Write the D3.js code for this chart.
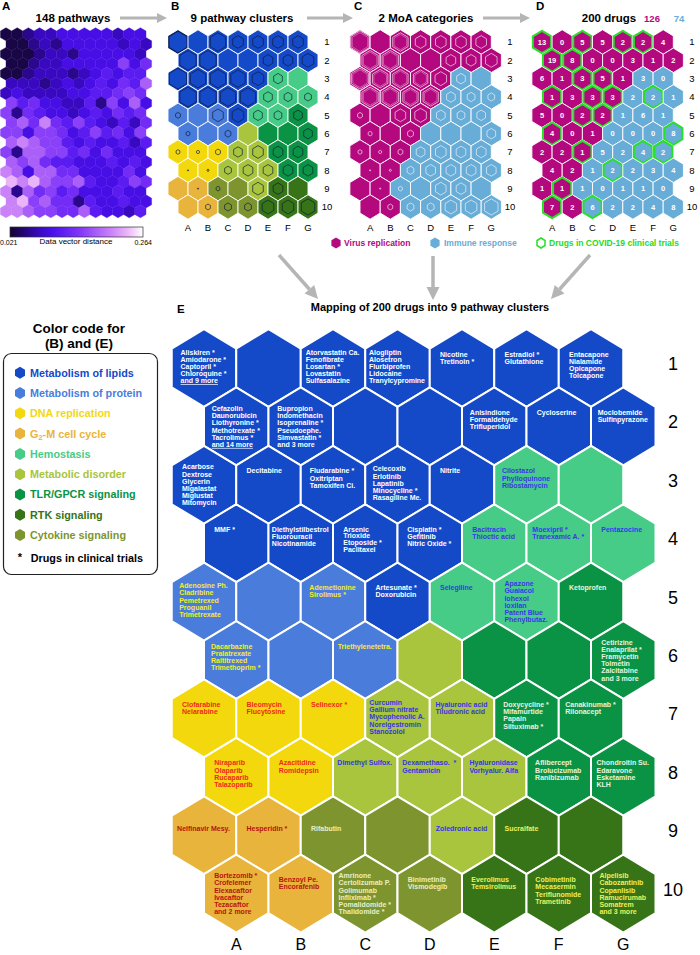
<!DOCTYPE html>
<html><head><meta charset="utf-8">
<script src="https://cdn.jsdelivr.net/npm/d3@7"></script>
<style>
body{margin:0;background:#fff}
svg{display:block;font-family:"Liberation Sans",Arial,Helvetica,sans-serif}
</style>
</head><body>
<svg id="chart" width="700" height="955"></svg>
<script>
// ---------------- DATA ----------------
const colLabels = ["A","B","C","D","E","F","G"];
const rowLabels = [1,2,3,4,5,6,7,8,9,10];

const clusterNames = ["Metabolism of lipids","Metabolism of protein","DNA replication","G2-M cell cycle","Hemostasis","Metabolic disorder","TLR/GPCR signaling","RTK signaling","Cytokine signaling"];
const clusterColors = ["#1449c8","#4a7cdc","#f3d80d","#e9b43b","#47cc88","#a9c43d","#0b9345","#367417","#7e952f"];
const clusterTextColors = ["#ffffff","#f4ec2a","#ee2a1c","#b5140c","#3838ea","#3636e4","#e6f4df","#ebf25c","#e8eec4"];

// cluster index per cell, rows 1..10, columns A..G
const clusterMap = [
  [0,0,0,0,0,0,0],
  [0,0,0,0,0,0,0],
  [0,0,0,0,0,4,4],
  [0,0,0,0,4,4,4],
  [1,1,1,0,4,4,6],
  [1,1,1,5,6,6,6],
  [2,2,2,5,5,6,6],
  [2,2,5,5,5,6,6],
  [3,3,8,8,5,7,7],
  [3,3,8,8,7,7,7]
];
// MoA category: 0 = virus replication, 1 = immune response
const moaNames = ["Virus replication","Immune response"];
const moaColors = ["#b4087e","#68acd8"];
const moaMap = [
  [0,0,0,0,0,0,0],
  [0,0,0,0,0,0,0],
  [0,0,0,0,0,1,1],
  [0,0,0,0,1,1,1],
  [0,0,0,0,1,1,1],
  [0,0,0,1,1,1,1],
  [0,0,0,1,1,1,1],
  [0,0,1,1,1,1,1],
  [0,0,1,1,1,1,1],
  [0,0,1,1,1,1,1]
];
const moaTotals = [126, 74];
const drugCounts = [
  [13,0,5,5,2,2,4],
  [19,8,0,0,3,1,2],
  [6,1,3,5,1,3,0],
  [1,3,3,3,2,2,1],
  [5,0,2,2,1,6,1],
  [4,0,1,0,0,0,8],
  [2,2,1,5,2,4,2],
  [4,2,1,2,2,3,4],
  [1,1,1,0,1,1,0],
  [7,2,6,2,2,4,8]
];
const trialFlags = [
  [1,0,1,0,1,1,0],
  [1,1,0,0,0,0,0],
  [0,0,1,1,0,0,0],
  [1,0,1,1,0,1,0],
  [0,0,1,1,0,0,0],
  [1,0,0,0,0,0,1],
  [0,0,1,0,0,1,1],
  [0,0,0,1,0,0,0],
  [0,1,0,0,0,0,0],
  [1,0,1,0,0,0,0]
];
// relative size of inner hexagon markers in panels B and C
const markerSize = [
  [0.95,0,0.8,0.55,0.55,0.55,0.55],
  [0.85,0.85,0,0,0.5,0.5,0.6],
  [0.9,0.8,0.8,0.75,0.6,0.45,0],
  [0.85,0.85,0.8,0.8,0.45,0.4,0.35],
  [0.25,0,0.55,0.6,0.45,0.4,0.45],
  [0.2,0,0.3,0,0,0,0.45],
  [0.2,0.15,0.25,0.45,0.55,0.5,0.5],
  [0.06,0.1,0.35,0.5,0.5,0.5,0.5],
  [0,0.06,0.2,0,0.55,0.5,0],
  [0,0.25,0.35,0.35,0.6,0.6,0.7]
];
const drugs = [
  [["Aliskiren *","Amiodarone *","Captopril *","Chloroquine *","and 9 more"],[],["Atorvastatin Ca.","Fenofibrate","Losartan *","Lovastatin","Sulfasalazine"],["Alogliptin","Alosetron","Flurbiprofen","Lidocaine","Tranylcypromine"],["Nicotine","Tretinoin *"],["Estradiol *","Glutathione"],["Entacapone","Nialamide","Opicapone","Tolcapone"]],
  [["Cefazolin","Daunorubicin","Liothyronine *","Methotrexate *","Tacrolimus *","and 14 more"],["Bupropion","Indomethacin","Isoprenaline *","Pseudoephe.","Simvastatin *","and 3 more"],[],[],["Anisindione","Formaldehyde","Trifluperidol"],["Cycloserine"],["Moclobemide","Sulfinpyrazone"]],
  [["Acarbose","Dextrose","Glycerin","Migalastat","Miglustat","Mitomycin"],["Decitabine"],["Fludarabine *","Oxitriptan","Tamoxifen Ci."],["Celecoxib","Erlotinib","Lapatinib","Minocycline *","Rasagiline Me."],["Nitrite"],["Cilostazol","Phylloquinone","Ribostamycin"],[]],
  [["MMF *"],["Diethylstilbestrol","Fluorouracil","Nicotinamide"],["Arsenic|Trioxide","Etoposide *","Paclitaxel"],["Cisplatin *","Gefitinib","Nitric Oxide *"],["Bacitracin","Thioctic acid"],["Moexipril *","Tranexamic A. *"],["Pentazocine"]],
  [["Adenosine Ph.","Cladribine","Pemetrexed","Proguanil","Trimetrexate"],[],["Ademetionine","Sirolimus *"],["Artesunate *","Doxorubicin"],["Selegiline"],["Apazone","Guaiacol","Iohexol","Ioxilan","Patent Blue","Phenylbutaz."],["Ketoprofen"]],
  [["Dacarbazine","Pralatrexate","Raltitrexed","Trimethoprim *"],[],["Triethylenetetra."],[],[],[],["Cetirizine","Enalaprilat *","Framycetin","Tolmetin","Zalcitabine","and 3 more"]],
  [["Clofarabine","Nelarabine"],["Bleomycin","Flucytosine"],["Selinexor *"],["Curcumin","Gallium nitrate","Mycophenolic A.","Norelgestromin","Stanozolol"],["Hyaluronic acid","Tiludronic acid"],["Doxycycline *","Mifamurtide","Papain","Siltuximab *"],["Canakinumab *","Rilonacept"]],
  [["Niraparib","Olaparib","Rucaparib","Talazoparib"],["Azacitidine","Romidepsin"],["Dimethyl Sulfox."],["Dexamethaso.  *","Gentamicin"],["Hyaluronidase","Vorhyalur. Alfa"],["Aflibercept","Brolucizumab","Ranibizumab"],["Chondroitin Su.","Edaravone","Esketamine","KLH"]],
  [["Nelfinavir Mesy."],["Hesperidin *"],["Rifabutin"],[],["Zoledronic acid"],["Sucralfate"],[]],
  [["Bortezomib *","Crofelemer","Elexacaftor","Ivacaftor","Tezacaftor","and 2 more"],["Benzoyl Pe.","Encorafenib"],["Amrinone","Certolizumab P.","Golimumab","Infliximab *","Pomalidomide *","Thalidomide *"],["Binimetinib","Vismodegib"],["Everolimus","Temsirolimus"],["Cobimetinib","Mecasermin","Teriflunomide","Trametinib"],["Alpelisib","Cabozantinib","Copanlisib","Ramucirumab","Somatrem","and 3 more"]]
];
const underlinedLines = ["and 9 more","and 14 more"];

// Panel A: data vector distance of the 148-pathway SOM (19 rows x 13 columns)
const distDomain = [0.021, 0.264];
const distance = [
  [0.03,0.03,0.055,0.075,0.075,0.095,0.095,0.095,0.095,0.095,0.075,0.095,0.095],
  [0.03,0.03,0.055,0.075,0.055,0.095,0.095,0.095,0.095,0.095,0.075,0.095,0.075],
  [0.03,0.03,0.03,0.055,0.075,0.075,0.055,0.095,0.095,0.095,0.095,0.095,0.075],
  [0.03,0.03,0.055,0.075,0.075,0.095,0.095,0.095,0.095,0.095,0.155,0.095,0.135],
  [0.03,0.03,0.055,0.075,0.075,0.075,0.055,0.075,0.095,0.115,0.095,0.115,0.115],
  [0.075,0.075,0.075,0.055,0.075,0.095,0.075,0.095,0.115,0.095,0.135,0.115,0.18],
  [0.075,0.095,0.075,0.075,0.075,0.075,0.095,0.095,0.115,0.115,0.135,0.155,0.135],
  [0.155,0.115,0.135,0.095,0.095,0.075,0.075,0.115,0.055,0.155,0.095,0.18,0.095],
  [0.155,0.055,0.135,0.115,0.095,0.095,0.075,0.095,0.115,0.095,0.135,0.115,0.135],
  [0.155,0.18,0.135,0.205,0.135,0.115,0.155,0.115,0.095,0.075,0.115,0.075,0.135],
  [0.155,0.155,0.095,0.155,0.155,0.135,0.095,0.115,0.155,0.115,0.135,0.095,0.155],
  [0.18,0.205,0.18,0.155,0.155,0.115,0.095,0.115,0.095,0.095,0.115,0.075,0.115],
  [0.155,0.055,0.18,0.18,0.155,0.155,0.115,0.135,0.095,0.135,0.095,0.095,0.095],
  [0.18,0.155,0.18,0.135,0.115,0.115,0.095,0.095,0.095,0.115,0.095,0.115,0.095],
  [0.205,0.18,0.095,0.18,0.18,0.135,0.135,0.095,0.095,0.095,0.095,0.135,0.095],
  [0.235,0.205,0.235,0.18,0.155,0.155,0.18,0.115,0.095,0.095,0.115,0.155,0.135],
  [0.205,0.055,0.18,0.135,0.155,0.115,0.135,0.095,0.095,0.095,0.115,0.095,0.095],
  [0.205,0.235,0.155,0.18,0.135,0.135,0.055,0.115,0.095,0.095,0.115,0.095,0.095],
  [0.205,0.205,0.18,0.155,0.155,0.135,0.135,0.18,0.115,0.095,0.095,0.075,0.115]
];
const distStops = [0.021,0.07,0.1,0.15,0.2,0.235,0.264];
const distColors = ["#12052e","#3608b8","#4a10ee","#8438f8","#c47af8","#eab4f8","#ffffff"];

// ---------------- DRAWING ----------------
const svg = d3.select("#chart");
const hexPath = (hw, rv) => `M0,${-rv}L${hw},${-rv/2}L${hw},${rv/2}L0,${rv}L${-hw},${rv/2}L${-hw},${-rv/2}Z`;
const colorDist = d3.scaleLinear().domain(distStops).range(distColors).interpolate(d3.interpolateRgb);

function grid(x0, sp, y0, dy, nCols, nRows) {
  const x = d3.scaleLinear().domain([0, nCols-1]).range([x0, x0 + (nCols-1)*sp]);
  const y = d3.scaleLinear().domain([1, nRows]).range([y0, y0 + (nRows-1)*dy]);
  return {
    cx: (r, k) => x(k) + (r % 2 === 0 ? sp/2 : 0),
    cy: r => y(r),
    labX: k => x(k) + sp/2
  };
}
function arrow(g, x1, y1, x2, y2, w, hl, hw) {
  const a = Math.atan2(y2-y1, x2-x1);
  const bx = x2 - hl*Math.cos(a), by = y2 - hl*Math.sin(a);
  g.append("line").attr("x1",x1).attr("y1",y1).attr("x2",bx).attr("y2",by)
    .attr("stroke","#b5b5b5").attr("stroke-width",w);
  const px = -Math.sin(a)*hw/2, py = Math.cos(a)*hw/2;
  g.append("path").attr("d",`M${x2},${y2}L${bx+px},${by+py}L${bx-px},${by-py}Z`).attr("fill","#b5b5b5");
}
function txt(x, y, s, o = {}) {
  return svg.append("text").attr("x",x).attr("y",y).text(s)
    .attr("font-size",o.size||10).attr("font-weight",o.bold?"bold":"normal")
    .attr("fill",o.fill||"#000").attr("text-anchor",o.anchor||"start");
}

// Panel letters + titles
txt(2,10,"A",{size:11.5,bold:true});
txt(171,10,"B",{size:11.5,bold:true});
txt(354,10,"C",{size:11.5,bold:true});
txt(536,10,"D",{size:11.5,bold:true});
txt(73,22,"148 pathways",{size:11.5,bold:true,anchor:"middle"});
txt(242,22,"9 pathway clusters",{size:11.5,bold:true,anchor:"middle"});
txt(426,22,"2 MoA categories",{size:11.5,bold:true,anchor:"middle"});
txt(609,22,"200 drugs",{size:11.5,bold:true,anchor:"middle"});
txt(652,22,String(moaTotals[0]),{size:9.5,bold:true,anchor:"middle",fill:moaColors[0]});
txt(679,22,String(moaTotals[1]),{size:9.5,bold:true,anchor:"middle",fill:moaColors[1]});
const ga = svg.append("g");
arrow(ga,120,18,167,18,2.8,10,10);
arrow(ga,307,18,353,18,2.8,10,10);
arrow(ga,483,18,530,18,2.8,10,10);

// ---- Panel A ----
{
  const G = grid(6, 11.2, 34.3, 9.83, 13, 19);
  const g = svg.append("g");
  distance.forEach((row, ri) => row.forEach((v, k) => {
    const r = ri + 1;
    g.append("path").attr("d", hexPath(5.6, 6.55))
      .attr("transform", `translate(${G.cx(r,k)},${G.cy(r)})`)
      .attr("fill", colorDist(v)).attr("stroke", colorDist(v)).attr("stroke-width", 0.4);
  }));
  const defs = svg.append("defs");
  const lg = defs.append("linearGradient").attr("id","distgrad");
  distStops.forEach((s,i)=> lg.append("stop")
    .attr("offset", (s - distDomain[0])/(distDomain[1]-distDomain[0]))
    .attr("stop-color", distColors[i]));
  const cb = d3.scaleLinear().domain(distDomain).range([10,143]);
  svg.append("rect").attr("x",cb(distDomain[0])).attr("y",227).attr("width",cb(distDomain[1])-cb(distDomain[0])).attr("height",10)
    .attr("fill","url(#distgrad)").attr("stroke","#333").attr("stroke-width",0.7);
  txt(0,245,"0.021",{size:7});
  txt(76,244,"Data vector distance",{size:8,anchor:"middle"});
  txt(152,245,"0.264",{size:7,anchor:"end"});
}

// ---- Panels B, C, D ----
function smallPanel(x0, sp, fillFn, innerFn, extraFn) {
  const G = grid(x0, sp, 42, 18.33, 7, 10);
  const g = svg.append("g");
  rowLabels.forEach((r, ri) => colLabels.forEach((c, k) => {
    const cell = g.append("g").attr("transform", `translate(${G.cx(r,k)},${G.cy(r)})`);
    cell.append("path").attr("d", hexPath(sp/2, 12.22)).attr("fill", fillFn(ri,k))
      .attr("stroke","#fff").attr("stroke-width",0.9);
    if (innerFn) innerFn(cell, ri, k);
    if (extraFn) extraFn(cell, ri, k);
  }));
  colLabels.forEach((c,k)=> txt(G.labX(k), 231, c, {size:9.5, anchor:"middle"}));
  return G;
}
const GB = smallPanel(178, 20, (ri,k)=>clusterColors[clusterMap[ri][k]], (cell,ri,k)=>{
  const s = markerSize[ri][k];
  if (s > 0) cell.append("path").attr("d", hexPath(9.6*s, 11.6*s)).attr("fill","none")
    .attr("stroke","#0d1a3a").attr("stroke-opacity",0.85).attr("stroke-width", s > 0.9 ? 1.3 : 0.8);
});
rowLabels.forEach(r => txt(327, GB.cy(r)+3.3, String(r), {size:9.5, anchor:"middle"}));

const GC = smallPanel(360, 20.2, (ri,k)=>moaColors[moaMap[ri][k]], (cell,ri,k)=>{
  const s = markerSize[ri][k];
  if (s > 0) {
    cell.append("path").attr("d", hexPath(9.6*s, 11.6*s)).attr("fill","none")
      .attr("stroke","#fff").attr("stroke-opacity",0.75).attr("stroke-width",0.8);
    if (s >= 0.75) cell.append("path").attr("d", hexPath(9.6*s-1.4, 11.6*s-1.6)).attr("fill","none")
      .attr("stroke","#fff").attr("stroke-opacity",0.55).attr("stroke-width",0.6);
  }
});
rowLabels.forEach(r => txt(510, GC.cy(r)+3.3, String(r), {size:9.5, anchor:"middle"}));

const GD = smallPanel(542, 20.2, (ri,k)=>moaColors[moaMap[ri][k]], null, (cell,ri,k)=>{
  if (trialFlags[ri][k]) cell.append("path").attr("d", hexPath(9.1, 11.2)).attr("fill","none")
    .attr("stroke","#28e028").attr("stroke-width",2);
  cell.append("text").attr("x",0).attr("y",2.7).attr("text-anchor","middle")
    .attr("font-size",7.5).attr("font-weight","bold").attr("fill","#fff").text(drugCounts[ri][k]);
});
rowLabels.forEach(r => txt(692, GD.cy(r)+3.3, String(r), {size:9.5, anchor:"middle"}));

// MoA legend line
{
  const y = 243;
  svg.append("path").attr("d", hexPath(4.6,5.6)).attr("transform",`translate(336,${y})`).attr("fill",moaColors[0]);
  txt(344,y+3,moaNames[0],{size:8.5,bold:true,fill:moaColors[0]});
  svg.append("path").attr("d", hexPath(4.6,5.6)).attr("transform",`translate(435,${y})`).attr("fill",moaColors[1]);
  txt(444,y+3,moaNames[1],{size:8.5,bold:true,fill:moaColors[1]});
  svg.append("path").attr("d", hexPath(4,5)).attr("transform",`translate(541,${y})`).attr("fill","#fff")
    .attr("stroke","#28e028").attr("stroke-width",1.5);
  txt(549,y+3,"Drugs in COVID-19 clinical trials",{size:8.5,bold:true,fill:"#22dd22"});
}
// big arrows
arrow(ga,279,255,318,299,3.5,13,13);
arrow(ga,433,256,433,300,3.5,13,13);
arrow(ga,590,255,551,299,3.5,13,13);

// ---- Legend box ----
txt(79,333,"Color code for",{size:13.5,bold:true,anchor:"middle"});
txt(79,348,"(B) and (E)",{size:13.5,bold:true,anchor:"middle"});
svg.append("rect").attr("x",3.5).attr("y",353.5).attr("width",154).attr("height",221).attr("rx",8)
  .attr("fill","none").attr("stroke","#222").attr("stroke-width",1.2);
clusterNames.forEach((n,i)=>{
  const y = 372.7 + i*20.3;
  svg.append("path").attr("d", hexPath(5,6)).attr("transform",`translate(20,${y})`).attr("fill",clusterColors[i]);
  const t = txt(30,y+3.9,"",{size:10.8,bold:true,fill:clusterColors[i]});
  if (i === 3) {
    t.append("tspan").text("G");
    t.append("tspan").text("2").attr("font-size",7.5).attr("dy",2.5);
    t.append("tspan").text("-M cell cycle").attr("dy",-2.5);
  } else t.text(n);
});
txt(20,561,"*",{size:11,bold:true,anchor:"middle"});
txt(30.7,561.5,"Drugs in clinical trials",{size:10.8,bold:true});

// ---- Panel E ----
txt(177,313,"E",{size:11.5,bold:true});
txt(430,311,"Mapping of 200 drugs into 9 pathway clusters",{size:11,bold:true,anchor:"middle"});
{
  const G = grid(204, 64.5, 368, 58.4, 7, 10);
  const g = svg.append("g");
  const rowShift = r => (r === 9 ? 7 : 0);
  rowLabels.forEach((r, ri) => colLabels.forEach((c, k) => {
    const cx = G.cx(r,k), cy = G.cy(r);
    g.append("path").attr("d", hexPath(32.25, 38.93)).attr("transform",`translate(${cx},${cy})`)
      .attr("fill", clusterColors[clusterMap[ri][k]]).attr("stroke","#fff").attr("stroke-width",2);
  }));
  rowLabels.forEach((r, ri) => colLabels.forEach((c, k) => {
    const list = drugs[ri][k];
    if (!list.length) return;
    const cx = G.cx(r,k), cy = G.cy(r);
    const lines = [];
    list.forEach(s => s.split("|").forEach((p,i)=> lines.push({t:p, tight:i>0})));
    const n = lines.length;
    let y = cy - 14 - Math.max(0, n-4)*2 + rowShift(r);
    const tg = g.append("g");
    lines.forEach((l,i)=>{
      if (i > 0) y += l.tight ? 6 : 7.2;
      const t = tg.append("text").attr("x",0).attr("y", y + 2.5).text(l.t)
        .attr("font-size",7).attr("font-weight","bold")
        .attr("fill", clusterTextColors[clusterMap[ri][k]])
        .style("white-space","pre");
      if (underlinedLines.includes(l.t)) t.attr("text-decoration","underline");
    });
    let w = 0;
    tg.selectAll("text").each(function(){ w = Math.max(w, this.getComputedTextLength()); });
    const left = cx - Math.max(22, w/2 + 0.5);
    tg.attr("transform", `translate(${left},0)`);
  }));
  rowLabels.forEach(r => txt(673, G.cy(r)+2, String(r), {size:18, anchor:"middle"}));
  colLabels.forEach((c,k)=> txt(G.labX(k), 950, c, {size:16, anchor:"middle"}));
}
</script>
</body></html>
